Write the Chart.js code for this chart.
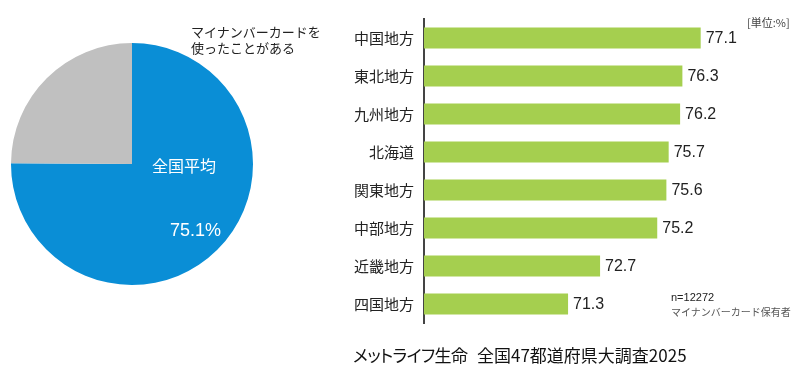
<!DOCTYPE html>
<html lang="ja">
<head>
<meta charset="utf-8">
<script src="https://cdn.jsdelivr.net/npm/chart.js@4/dist/chart.umd.min.js"></script>
<style>
  html, body { margin: 0; padding: 0; background: #fff; }
  body { width: 800px; height: 374px; position: relative; overflow: hidden;
         font-family: "Noto Sans CJK JP", "Noto Sans", sans-serif; color: #222; }
  .abs { position: absolute; white-space: nowrap; }
  #pieWrap { position: absolute; left: 11px; top: 43px; width: 242px; height: 242px; }
  #barWrap { position: absolute; left: 330px; top: 0; width: 470px; height: 374px; }
</style>
</head>
<body>
<div id="pieWrap"><canvas id="pieChart" width="242" height="242"></canvas></div>
<div id="barWrap"><canvas id="barChart" width="470" height="374"></canvas></div>

<div class="abs" style="left:191px; top:24px; font-size:13px; line-height:16px;">マイナンバーカードを<br>使ったことがある</div>
<div class="abs" id="pieName" style="left:152px; top:154px; font-size:16px; line-height:22px; color:#fff;"></div>
<div class="abs" id="pieValue" style="left:170px; top:219px; font-size:18px; line-height:22px; color:#fff; font-family:'Liberation Sans', Arial, sans-serif;"></div>
<div class="abs" style="left:747px; top:14px; font-size:11px; line-height:16px; color:#444;">[単位:%]</div>
<div class="abs" style="left:671px; top:290px; font-size:11px; line-height:15px; color:#222; font-family:'Liberation Sans', Arial, sans-serif;">n=12272</div>
<div class="abs" style="left:671px; top:304px; font-size:10px; line-height:15px; color:#555;">マイナンバーカード保有者</div>
<div class="abs" style="left:353px; top:343px; font-size:17px; line-height:24px; color:#111; font-feature-settings:'palt'; letter-spacing:-0.6px;">メットライフ生命</div>
<div class="abs" style="left:477px; top:343px; font-size:17px; line-height:24px; color:#111; font-feature-settings:'palt';">全国47都道府県大調査2025</div>

<script>
// pie: national average
const pieLabels = ['全国平均', 'その他'];
const pieValues = [75.1, 24.9];
const pieColors = ['#0a8ed6', '#c0c0c0'];

// bars: by region
const regions = ['中国地方', '東北地方', '九州地方', '北海道', '関東地方', '中部地方', '近畿地方', '四国地方'];
const regionValues = [77.1, 76.3, 76.2, 75.7, 75.6, 75.2, 72.7, 71.3];

document.getElementById('pieName').textContent = pieLabels[0];
document.getElementById('pieValue').textContent = pieValues[0].toFixed(1) + '%';

new Chart(document.getElementById('pieChart'), {
    type: 'pie',
    data: {
        labels: pieLabels,
        datasets: [{
            data: pieValues,
            backgroundColor: pieColors,
            borderWidth: 0
        }]
    },
    options: {
        responsive: false,
        animation: false,
        plugins: { legend: { display: false }, tooltip: { enabled: false } }
    }
});

// value labels at the end of each bar
const barValueLabels = {
    id: 'barValueLabels',
    afterDatasetsDraw(chart) {
        const ctx = chart.ctx;
        const meta = chart.getDatasetMeta(0);
        ctx.save();
        ctx.font = '16px "Liberation Sans", Arial, sans-serif';
        ctx.fillStyle = '#222';
        ctx.textAlign = 'left';
        ctx.textBaseline = 'middle';
        meta.data.forEach((bar, i) => {
            ctx.fillText(regionValues[i].toFixed(1), bar.x + 5, bar.y + 1);
        });
        ctx.restore();
    }
};

new Chart(document.getElementById('barChart'), {
    type: 'bar',
    data: {
        labels: regions,
        datasets: [{
            data: regionValues,
            backgroundColor: '#a5cf4f',
            categoryPercentage: 0.55,
            barPercentage: 1
        }]
    },
    options: {
        indexAxis: 'y',
        responsive: false,
        animation: false,
        layout: { padding: { top: 18, bottom: 51, right: 33, left: 0 } },
        plugins: { legend: { display: false }, tooltip: { enabled: false } },
        scales: {
            x: { display: false, min: 65, max: 80 },
            y: {
                grid: { display: false, drawTicks: false },
                border: { display: true, color: '#444', width: 2 },
                ticks: {
                    padding: 10,
                    color: '#222',
                    font: { family: '"Noto Sans CJK JP", sans-serif', size: 15 }
                },
                afterFit(scale) { scale.width = 94; }
            }
        }
    },
    plugins: [barValueLabels]
});
</script>
</body>
</html>
